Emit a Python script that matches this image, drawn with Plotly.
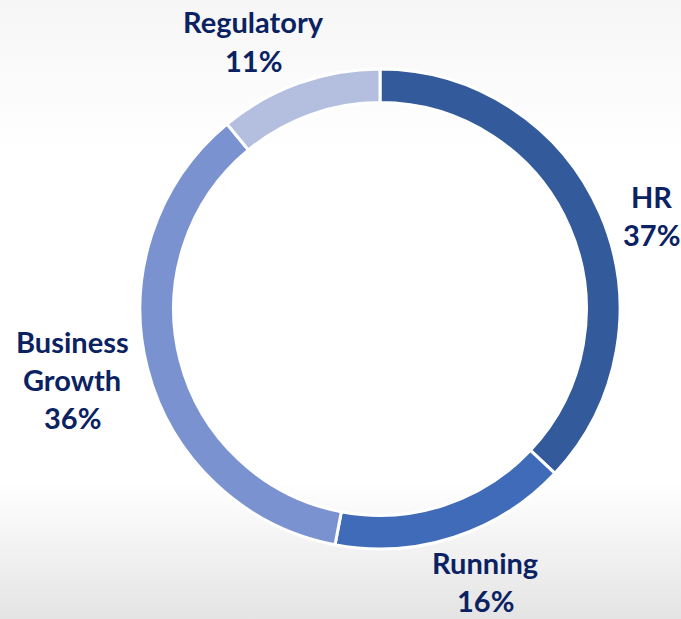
import plotly.graph_objects as go

categories = ["HR", "Running", "Business Growth", "Regulatory"]
values = [37, 16, 36, 11]
colors = ["#335A9A", "#3F6BB8", "#7A92CF", "#B4BFDF"]
label_lines = [["HR"], ["Running"], ["Business", "Growth"], ["Regulatory"]]

W, H = 681, 619
# label anchor (center of first line) in pixels
label_pos = [(651, 196), (485, 562), (72, 341), (253, 22)]
line_gap = 38

fig = go.Figure()

# background gradient
fig.add_trace(go.Scatter(
    x=[0, 1, 1, 0, 0], y=[0, 0, 1, 1, 0], mode="lines", fill="toself",
    line=dict(width=0), hoverinfo="skip", showlegend=False,
    fillgradient=dict(type="vertical",
                      colorscale=[[0, "#e4e4e4"], [0.22, "#ffffff"], [0.75, "#ffffff"], [1, "#f6f6f6"]]),
))

fig.add_trace(go.Pie(
    labels=categories, values=values, sort=False, direction="clockwise", rotation=0,
    hole=0.86, marker=dict(colors=colors, line=dict(color="white", width=3)),
    textinfo="none", showlegend=False,
    domain=dict(x=[140 / W, 620 / W], y=[1 - 550 / H, 1 - 68 / H]),
))

total = sum(values)
annotations = []
for cat, v, lines, (px, py) in zip(categories, values, label_lines, label_pos):
    all_lines = lines + [f"{round(100 * v / total)}%"]
    for i, t in enumerate(all_lines):
        annotations.append(dict(
            x=px / W, y=1 - (py + i * line_gap) / H, xref="paper", yref="paper",
            text=f"<b>{t}</b>", showarrow=False, xanchor="center", yanchor="middle",
            borderpad=0,
            font=dict(family="Lato", size=29, color="#0B2262"),
        ))

fig.update_layout(
    width=W, height=H, margin=dict(l=0, r=0, t=0, b=0),
    paper_bgcolor="white", plot_bgcolor="rgba(0,0,0,0)",
    xaxis=dict(visible=False, range=[0, 1], domain=[0, 1], fixedrange=True),
    yaxis=dict(visible=False, range=[0, 1], domain=[0, 1], fixedrange=True),
    annotations=annotations,
)

fig.write_html("out.html", config={"displayModeBar": False})

# remove default body margin so the figure fills the window exactly
with open("out.html", "r", encoding="utf-8") as f:
    html = f.read()
html = html.replace("<head>", "<head><style>html,body{margin:0;padding:0;overflow:hidden;}</style>", 1)
with open("out.html", "w", encoding="utf-8") as f:
    f.write(html)
